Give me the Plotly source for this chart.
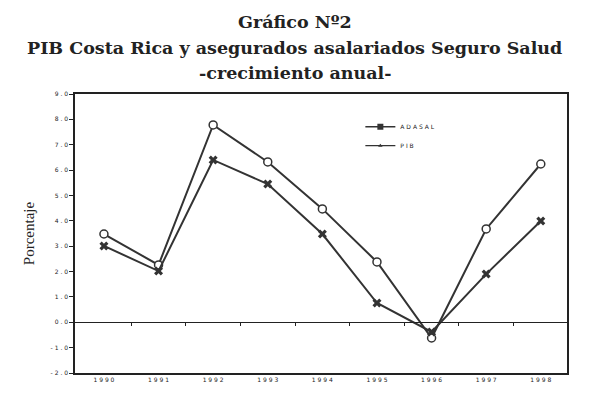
import plotly.graph_objects as go

years = [1990, 1991, 1992, 1993, 1994, 1995, 1996, 1997, 1998]
adasal = [3.48, 2.26, 7.78, 6.32, 4.47, 2.38, -0.62, 3.68, 6.24]
pib = [3.01, 2.02, 6.40, 5.45, 3.48, 0.76, -0.38, 1.90, 3.99]

y_ticks = [9, 8, 7, 6, 5, 4, 3, 2, 1, 0, -1, -2]
mid_ticks = [1990.5, 1991.5, 1992.5, 1993.5, 1994.5, 1995.5, 1996.5, 1997.5]


def spaced(s):
    # the scanned chart prints labels with wide letter spacing
    return " ".join(s)


ink = "#333333"

fig = go.Figure()

fig.add_trace(go.Scatter(
    x=years, y=adasal, mode="lines+markers", showlegend=False,
    line=dict(color=ink, width=2),
    marker=dict(symbol="circle", size=8, color="white", line=dict(color=ink, width=1.5)),
))
fig.add_trace(go.Scatter(
    x=years, y=pib, mode="lines+markers", showlegend=False,
    line=dict(color=ink, width=2),
    marker=dict(symbol="x", size=8, color=ink, line=dict(width=0)),
))

# legend entries (the original legend uses different symbols)
fig.add_trace(go.Scatter(
    x=[None], y=[None], mode="lines+markers", name=spaced("ADASAL"),
    line=dict(color=ink, width=1.5), marker=dict(symbol="square", size=6, color=ink),
))
fig.add_trace(go.Scatter(
    x=[None], y=[None], mode="lines+markers", name=spaced("PIB"),
    line=dict(color=ink, width=1.2), marker=dict(symbol="triangle-up", size=4, color=ink),
))

# hidden trace to carry the zero-line axis
fig.add_trace(go.Scatter(x=[1990], y=[0], xaxis="x2", mode="markers",
                         marker=dict(opacity=0), showlegend=False, hoverinfo="skip"))

# page body adds an 8px margin, so the figure is sized to compensate
fig.update_layout(
    width=589, height=406,
    paper_bgcolor="white", plot_bgcolor="white",
    margin=dict(l=67, r=30, t=86, b=41),
    font=dict(family="DejaVu Sans", color="#222"),
    xaxis=dict(
        range=[1989.47, 1998.48], showgrid=False, zeroline=False,
        showline=True, linecolor="#222", linewidth=1.5, mirror=True,
        ticks="", tickvals=years, ticktext=[spaced(str(y)) for y in years],
        tickfont=dict(size=6, color="#222"),
    ),
    xaxis2=dict(
        range=[1989.47, 1998.48], overlaying="x", anchor="free", position=2 / 11,
        showline=True, linecolor="#222", linewidth=1.2, showgrid=False, zeroline=False,
        ticks="outside", ticklen=3, tickcolor="#222", tickvals=mid_ticks,
        showticklabels=False,
    ),
    yaxis=dict(
        range=[-2, 9], showgrid=False, zeroline=False,
        showline=True, linecolor="#222", linewidth=1.5, mirror=True,
        ticks="outside", ticklen=4, tickcolor="#222",
        tickvals=y_ticks, ticktext=[spaced(f"{v:.1f}") for v in y_ticks],
        tickfont=dict(size=6, color="#222"),
        title=dict(text="Porcentaje", font=dict(family="Liberation Serif", size=15, color="#222"),
                   standoff=12),
    ),
    legend=dict(x=0.58, y=0.935, xanchor="left", yanchor="top", bgcolor="rgba(0,0,0,0)",
                font=dict(size=6, color="#222"), itemwidth=30, tracegroupgap=0),
)

title_font = dict(family="DejaVu Serif", size=17.5, color="#222")
title_lines = ["Gráfico Nº2", "PIB Costa Rica y asegurados asalariados Seguro Salud",
               "-crecimiento anual-"]
for line, ypos in zip(title_lines, [1.258, 1.165, 1.075]):
    fig.add_annotation(text=f"<b>{line}</b>", xref="paper", yref="paper", x=0.447, y=ypos,
                       xanchor="center", yanchor="middle", showarrow=False, font=title_font)

fig.write_html("out.html")
